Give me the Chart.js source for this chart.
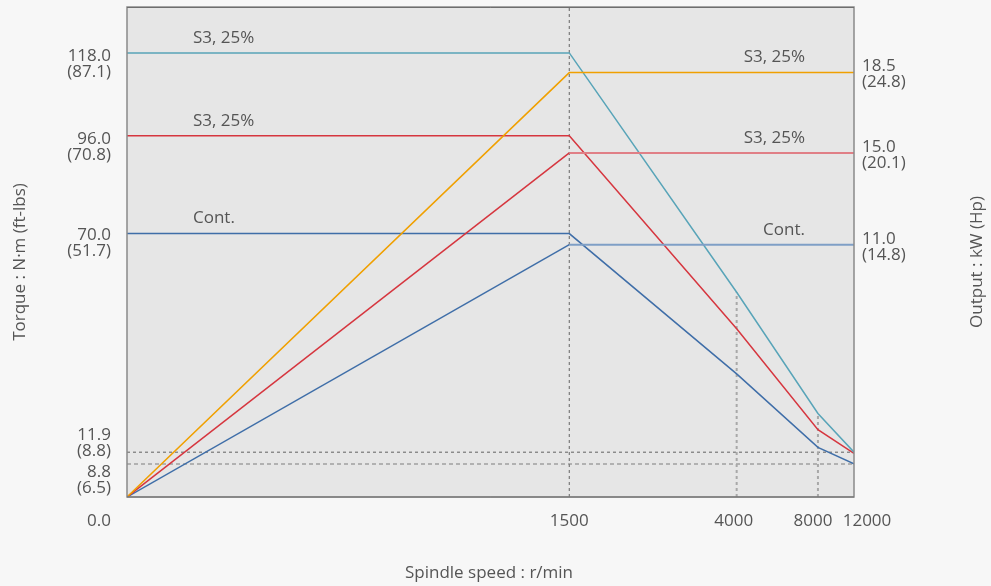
<!DOCTYPE html>
<html>
<head>
<meta charset="utf-8">
<title>Spindle output / torque diagram</title>
<script src="https://cdn.jsdelivr.net/npm/chart.js@4.4.1/dist/chart.umd.min.js"></script>
<style>
  html, body { margin: 0; padding: 0; background: #f7f7f7; }
  #wrap { width: 991px; height: 586px; position: relative; }
</style>
</head>
<body>
<div id="wrap"><canvas id="chart" width="991" height="586"></canvas></div>
<script>
// Spindle speed (r/min) at each characteristic point
const speeds = [0, 1500, 4000, 8000, 12000];
const speedTicks = [1500, 4000, 8000, 12000];

// Torque (N·m), left axis
const torqueS3High = [118, 118, 54.4, 22.2, 11.9];
const torqueS3Low  = [96, 96, 44.7, 17.9, 11.6];
const torqueCont   = [70, 70, 32.7, 13.2, 8.8];

// Output (kW), right axis
const outputS3High = [0, 18.5, 18.5, 18.5, 18.5];
const outputS3Low  = [0, 15.0, 15.0, 15.0, 15.0];
const outputCont   = [0, 11.0, 11.0, 11.0, 11.0];

// Axis tick labels: metric value plus imperial value in brackets
const torqueTicks = [118.0, 96.0, 70.0, 11.9, 8.8, 0.0];
const torqueTicksImperial = ['(87.1)', '(70.8)', '(51.7)', '(8.8)', '(6.5)', ''];
const outputTicks = [18.5, 15.0, 11.0];
const outputTicksImperial = ['(24.8)', '(20.1)', '(14.8)'];

// Duty-cycle captions for each curve
const torqueCaptions = ['S3, 25%', 'S3, 25%', 'Cont.'];
const outputCaptions = ['S3, 25%', 'S3, 25%', 'Cont.'];

// The speed axis is drawn piecewise: each span between break speeds
// gets its own share of the axis width.
const SPEED_BREAKS = [0, 1500, 4000, 8000, 12000];
const SPEED_SHARES = [0, 0.6084, 0.8386, 0.9504, 1];

class PiecewiseScale extends Chart.LinearScale {
  static id = 'piecewise';
  static defaults = {};
  _fracFor(value) {
    const b = SPEED_BREAKS, f = SPEED_SHARES;
    let i = 0;
    while (i < b.length - 2 && value > b[i + 1]) i++;
    const t = (value - b[i]) / (b[i + 1] - b[i]);
    return f[i] + t * (f[i + 1] - f[i]);
  }
  getPixelForValue(value) {
    return this.left + this._fracFor(value) * this.width;
  }
  getValueForPixel(pixel) {
    const b = SPEED_BREAKS, f = SPEED_SHARES;
    const frac = (pixel - this.left) / this.width;
    let i = 0;
    while (i < f.length - 2 && frac > f[i + 1]) i++;
    const t = (frac - f[i]) / (f[i + 1] - f[i]);
    return b[i] + t * (b[i + 1] - b[i]);
  }
}
Chart.register(PiecewiseScale);

const FONT = '"Open Sans", "Noto Sans", sans-serif';
const TEXT = '#555555';

const pts = (ys) => speeds.map((x, i) => ({ x, y: ys[i] }));
const TORQUE_MAX = 130.2;
const OUTPUT_MAX = 21.36;

function guide(data, color, width, dash, axis) {
  return {
    data, yAxisID: axis || 'y', borderColor: color, borderWidth: width,
    borderDash: dash, pointRadius: 0, tension: 0, fill: false, order: 10
  };
}
function curve(data, color, width, axis) {
  return {
    data, yAxisID: axis, borderColor: color, borderWidth: width,
    pointRadius: 0, tension: 0, fill: false, order: 1
  };
}
// Output curve: rising part in the solid colour, constant-power part softer and wider
function outputCurve(data, color, flatColor, flatWidth) {
  const ds = curve(data, color, 1.5, 'y2');
  ds.segment = {
    borderColor: (c) => (c.p0DataIndex === 0 ? color : flatColor),
    borderWidth: (c) => (c.p0DataIndex === 0 ? 1.5 : flatWidth)
  };
  return ds;
}

const decor = {
  id: 'decor',
  beforeDraw(chart) {
    const { ctx, chartArea: a } = chart;
    ctx.save();
    ctx.fillStyle = '#f7f7f7';
    ctx.fillRect(0, 0, chart.width, chart.height);
    ctx.fillStyle = '#e6e6e6';
    ctx.fillRect(a.left, a.top, a.right - a.left, a.bottom - a.top);
    ctx.restore();
  },
  afterDatasetsDraw(chart) {
    const { ctx, chartArea: a, scales } = chart;
    const x = scales.x, y = scales.y, y2 = scales.y2;
    ctx.save();

    // plot frame
    ctx.strokeStyle = '#8a8a8a';
    ctx.lineWidth = 1.5;
    ctx.strokeRect(a.left, a.top, a.right - a.left, a.bottom - a.top);
    ctx.strokeStyle = '#6e6e6e';
    ctx.lineWidth = 1;
    ctx.beginPath();
    ctx.moveTo(a.left, a.top + 0.5);
    ctx.lineTo(a.right, a.top + 0.5);
    ctx.moveTo(a.left, a.bottom);
    ctx.lineTo(a.right, a.bottom);
    ctx.stroke();

    ctx.font = '17px ' + FONT;
    ctx.fillStyle = TEXT;
    ctx.textBaseline = 'middle';

    // left axis: torque
    const leftNudge = [3, 3, 2, -17, 8, 24];
    ctx.textAlign = 'right';
    torqueTicks.forEach((v, i) => {
      const py = y.getPixelForValue(v) + leftNudge[i];
      ctx.fillText(v.toFixed(1), a.left - 16, py);
      if (torqueTicksImperial[i]) ctx.fillText(torqueTicksImperial[i], a.left - 16, py + 16);
    });

    // right axis: output
    ctx.textAlign = 'left';
    outputTicks.forEach((v, i) => {
      const py = y2.getPixelForValue(v);
      ctx.fillText(v.toFixed(1), a.right + 8, py - 6);
      ctx.fillText(outputTicksImperial[i], a.right + 8, py + 10);
    });

    // speed axis
    const speedNudge = [0, -3, -5, 13];
    ctx.textAlign = 'center';
    speedTicks.forEach((v, i) => {
      ctx.fillText(String(v), x.getPixelForValue(v) + speedNudge[i], a.bottom + 24);
    });

    // duty-cycle captions
    ctx.textAlign = 'left';
    [torqueS3High, torqueS3Low, torqueCont].forEach((arr, i) => {
      ctx.fillText(torqueCaptions[i], a.left + 66, y.getPixelForValue(arr[0]) - 15);
    });
    ctx.textAlign = 'right';
    [outputS3High, outputS3Low, outputCont].forEach((arr, i) => {
      ctx.fillText(outputCaptions[i], a.right - 49, y2.getPixelForValue(arr[arr.length - 1]) - 15);
    });

    // axis titles
    ctx.textAlign = 'center';
    ctx.fillText('Spindle speed : r/min', 489, 573);
    ctx.save();
    ctx.translate(20, 262);
    ctx.rotate(-Math.PI / 2);
    ctx.fillText('Torque : N·m (ft-lbs)', 0, 0);
    ctx.restore();
    ctx.save();
    ctx.translate(977, 262);
    ctx.rotate(-Math.PI / 2);
    ctx.fillText('Output : kW (Hp)', 0, 0);
    ctx.restore();

    ctx.restore();
  }
};

new Chart(document.getElementById('chart'), {
  type: 'line',
  data: {
    datasets: [
      // reference guides
      guide([{ x: 1500, y: 0 }, { x: 1500, y: TORQUE_MAX }], '#7a7a7a', 1.2, [3, 3]),
      guide([{ x: 4000, y: 0 }, { x: 4000, y: torqueS3High[2] }], '#a8a8a8', 2, [3, 3]),
      guide([{ x: 8000, y: 0 }, { x: 8000, y: torqueS3High[3] }], '#a8a8a8', 2, [3, 3]),
      guide([{ x: 0, y: torqueS3High[4] }, { x: 12000, y: torqueS3High[4] }], '#777777', 1.2, [3, 3]),
      guide([{ x: 0, y: torqueCont[4] }, { x: 12000, y: torqueCont[4] }], '#a0a0a0', 1.5, [4, 3]),
      // output curves
      outputCurve(pts(outputS3High), '#f0a000', '#f0a000', 1.5),
      outputCurve(pts(outputS3Low), '#d6363f', '#e07f86', 2),
      outputCurve(pts(outputCont), '#3f6ea8', '#7f9fc6', 2),
      // torque curves
      curve(pts(torqueS3High), '#58a4b8', 1.5, 'y'),
      curve(pts(torqueS3Low), '#d6363f', 1.5, 'y'),
      curve(pts(torqueCont), '#3f6ea8', 1.5, 'y')
    ]
  },
  options: {
    responsive: false,
    devicePixelRatio: 1,
    animation: false,
    events: [],
    layout: { padding: { left: 127, right: 137, top: 7, bottom: 89 } },
    plugins: { legend: { display: false }, tooltip: { enabled: false } },
    scales: {
      x: { type: 'piecewise', min: 0, max: 12000, display: false },
      y: { type: 'linear', min: 0, max: TORQUE_MAX, display: false },
      y2: { type: 'linear', min: 0, max: OUTPUT_MAX, display: false, position: 'right' }
    }
  },
  plugins: [decor]
});
</script>
</body>
</html>
